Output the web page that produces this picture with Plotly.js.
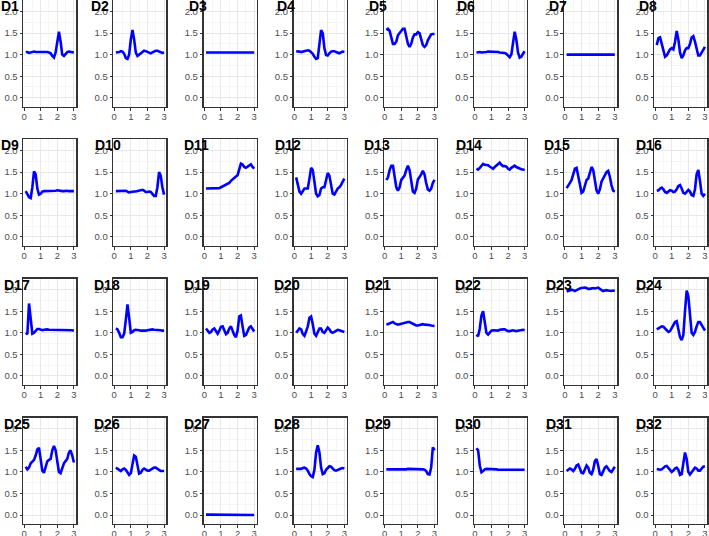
<!DOCTYPE html>
<html>
<head>
<meta charset="utf-8">
<script src="https://cdn.plot.ly/plotly-3.0.1.min.js"></script>
<style>html,body{margin:0;padding:0;background:#fff;}#chart{width:709px;height:536px;}</style>
</head>
<body>
<div id="chart"></div>
<script>
// x positions of the samples
const xVals = [0.1,0.2,0.3,0.4,0.5,0.6,0.7,0.8,0.9,1.0,1.1,1.2,1.3,1.4,1.5,1.6,1.7,1.8,1.9,2.0,2.1,2.2,2.3,2.4,2.5,2.6,2.7,2.8,2.9,3.0];
const panelNames = ["D1","D2","D3","D4","D5","D6","D7","D8","D9","D10","D11","D12","D13","D14","D15","D16","D17","D18","D19","D20","D21","D22","D23","D24","D25","D26","D27","D28","D29","D30","D31","D32"];
const xTicks = [0,1,2,3];
const yTicks = [0,0.5,1,1.5,2];
const yTickText = ["0.0","0.5","1.0","1.5","2.0"];

const D1 = [1.06,1.06,1.04,1.05,1.06,1.07,1.06,1.06,1.07,1.07,1.06,1.06,1.07,1.06,1.05,1.03,0.97,0.93,1.05,1.35,1.53,1.30,1.00,0.97,1.02,1.06,1.07,1.06,1.05,1.05];
const D2 = [1.05,1.05,1.06,1.08,1.07,1.02,0.92,0.90,1.00,1.35,1.57,1.35,1.05,0.97,1.00,1.05,1.08,1.09,1.08,1.06,1.04,1.03,1.05,1.07,1.09,1.09,1.07,1.05,1.04,1.05];
const D3 = [1.05,1.05,1.05,1.05,1.05,1.04,1.04,1.04,1.05,1.05,1.05,1.05,1.05,1.05,1.05,1.05,1.05,1.04,1.04,1.05,1.05,1.05,1.05,1.05,1.05,1.05,1.05,1.05,1.05,1.05];
const D4 = [1.08,1.08,1.07,1.06,1.07,1.08,1.09,1.10,1.09,1.06,1.02,0.95,0.90,0.92,1.25,1.57,1.50,1.15,0.99,0.98,1.03,1.07,1.08,1.08,1.06,1.04,1.03,1.05,1.07,1.06];
const D5 = [1.57,1.60,1.55,1.40,1.25,1.25,1.30,1.45,1.50,1.55,1.60,1.60,1.45,1.25,1.18,1.25,1.40,1.47,1.47,1.52,1.50,1.38,1.22,1.18,1.22,1.33,1.42,1.47,1.48,1.48];
const D6 = [1.05,1.06,1.06,1.05,1.05,1.05,1.06,1.07,1.07,1.07,1.07,1.06,1.06,1.06,1.05,1.05,1.05,1.04,1.02,0.97,0.94,1.00,1.30,1.53,1.35,1.05,0.93,0.95,1.02,1.08];
const D7 = [1.00,1.00,1.00,1.00,1.00,1.00,1.00,1.00,1.00,1.00,1.00,1.00,1.00,1.01,1.01,1.01,1.01,1.01,1.01,1.01,1.01,1.01,1.01,1.01,1.01,1.00,1.00,1.00,1.00,1.00];
const D8 = [1.22,1.38,1.40,1.25,1.05,0.95,0.98,1.05,1.12,1.15,1.12,1.30,1.55,1.35,1.05,0.92,0.98,1.10,1.15,1.15,1.25,1.40,1.43,1.30,1.10,0.98,0.98,1.05,1.12,1.18];
const D9 = [1.06,1.00,0.92,0.90,1.15,1.52,1.45,1.12,0.98,1.00,1.05,1.06,1.06,1.06,1.06,1.06,1.06,1.07,1.07,1.08,1.07,1.06,1.06,1.06,1.07,1.07,1.06,1.06,1.06,1.06];
const D10 = [1.06,1.06,1.06,1.06,1.07,1.07,1.07,1.05,1.03,1.04,1.05,1.05,1.05,1.06,1.07,1.08,1.09,1.07,1.04,1.04,1.05,1.04,1.00,0.95,0.95,1.15,1.50,1.42,1.15,0.98];
const D11 = [1.12,1.12,1.13,1.13,1.13,1.13,1.12,1.12,1.13,1.15,1.17,1.19,1.20,1.22,1.25,1.30,1.34,1.37,1.40,1.43,1.55,1.70,1.68,1.62,1.60,1.63,1.67,1.68,1.62,1.58];
const D12 = [1.38,1.20,1.05,1.00,1.05,1.12,1.12,1.12,1.35,1.60,1.55,1.30,1.00,0.94,0.97,1.12,1.15,1.15,1.30,1.48,1.42,1.20,1.00,0.98,1.05,1.12,1.15,1.20,1.28,1.35];
const D13 = [1.32,1.38,1.55,1.65,1.65,1.40,1.15,1.07,1.15,1.32,1.38,1.42,1.55,1.65,1.55,1.25,1.05,1.02,1.12,1.33,1.38,1.45,1.53,1.45,1.25,1.10,1.07,1.12,1.25,1.32];
const D14 = [1.58,1.56,1.60,1.65,1.69,1.67,1.66,1.66,1.63,1.60,1.58,1.62,1.65,1.70,1.72,1.67,1.64,1.64,1.63,1.58,1.56,1.60,1.63,1.65,1.62,1.60,1.58,1.57,1.56,1.55];
const D15 = [1.13,1.18,1.25,1.32,1.45,1.58,1.60,1.40,1.15,1.02,1.05,1.20,1.32,1.35,1.50,1.62,1.55,1.30,1.08,1.00,1.10,1.28,1.35,1.40,1.50,1.53,1.40,1.20,1.07,1.05];
const D16 = [1.07,1.08,1.12,1.14,1.10,1.04,1.02,1.05,1.08,1.07,1.04,1.05,1.10,1.18,1.20,1.12,1.02,1.00,1.05,1.09,1.05,0.97,0.95,1.10,1.45,1.55,1.30,1.00,0.95,1.00];
const D17 = [1.00,0.97,1.68,1.30,0.98,1.00,1.05,1.09,1.09,1.07,1.06,1.07,1.08,1.08,1.07,1.07,1.07,1.07,1.07,1.07,1.07,1.07,1.07,1.07,1.07,1.07,1.07,1.07,1.06,1.05];
const D18 = [1.10,1.08,1.00,0.90,0.90,0.98,1.30,1.66,1.35,1.00,1.02,1.06,1.07,1.07,1.06,1.05,1.05,1.04,1.05,1.06,1.07,1.08,1.08,1.07,1.07,1.07,1.06,1.06,1.05,1.05];
const D19 = [1.10,1.06,1.00,1.02,1.08,1.10,1.05,0.98,1.05,1.14,1.15,1.05,0.97,1.00,1.10,1.15,1.05,0.95,0.90,1.05,1.38,1.40,1.15,0.93,0.95,1.05,1.12,1.15,1.10,1.03];
const D20 = [1.00,1.05,1.10,1.08,0.97,0.93,1.02,1.15,1.35,1.38,1.20,0.98,0.93,1.00,1.10,1.10,1.02,1.00,1.08,1.12,1.08,1.02,1.00,1.03,1.05,1.07,1.06,1.05,1.03,1.02];
const D21 = [1.20,1.20,1.22,1.24,1.25,1.22,1.20,1.19,1.20,1.21,1.22,1.24,1.25,1.25,1.25,1.23,1.21,1.19,1.17,1.17,1.18,1.20,1.20,1.19,1.19,1.19,1.18,1.17,1.17,1.16];
const D22 = [0.96,0.92,1.10,1.40,1.50,1.25,1.00,0.96,1.00,1.05,1.06,1.06,1.06,1.05,1.07,1.08,1.08,1.08,1.06,1.04,1.04,1.05,1.06,1.05,1.04,1.05,1.06,1.07,1.07,1.06];
const D23 = [1.96,1.97,1.98,2.00,1.99,1.97,1.99,2.02,2.03,2.04,2.05,2.05,2.04,2.02,2.02,2.03,2.04,2.03,2.04,2.05,2.02,1.99,1.97,1.98,1.99,1.98,1.97,1.97,1.98,1.97];
const D24 = [1.08,1.10,1.13,1.15,1.14,1.10,1.05,1.02,1.04,1.10,1.18,1.25,1.27,1.10,0.90,0.83,0.95,1.50,1.98,1.85,1.35,1.00,0.95,1.02,1.15,1.25,1.25,1.18,1.10,1.05];
const D25 = [1.12,1.06,1.10,1.20,1.24,1.28,1.38,1.52,1.56,1.30,1.03,0.98,1.10,1.25,1.28,1.30,1.50,1.60,1.50,1.20,1.00,0.97,1.08,1.20,1.25,1.30,1.45,1.50,1.38,1.22];
const D26 = [1.10,1.07,1.03,1.02,1.06,1.08,1.05,0.98,0.93,0.97,1.15,1.38,1.35,1.10,0.96,0.98,1.05,1.08,1.06,1.03,1.03,1.05,1.08,1.10,1.10,1.07,1.04,1.02,1.02,1.02];
const D27 = [0.01,0.01,0.01,0.01,0.01,0.01,0.01,0.01,0.01,0.01,0.00,0.00,0.00,0.00,0.00,0.00,0.00,0.00,0.00,0.00,0.00,0.00,0.00,0.00,0.00,0.00,0.00,0.00,0.00,0.00];
const D28 = [1.07,1.07,1.06,1.07,1.09,1.10,1.08,1.03,0.95,0.90,0.88,1.05,1.45,1.62,1.45,1.10,0.95,0.97,1.05,1.10,1.13,1.12,1.08,1.04,1.03,1.05,1.07,1.08,1.09,1.08];
const D29 = [1.06,1.06,1.06,1.06,1.06,1.06,1.06,1.06,1.05,1.05,1.06,1.06,1.06,1.07,1.07,1.06,1.06,1.06,1.07,1.07,1.07,1.06,1.06,1.05,1.02,0.95,0.94,1.10,1.57,1.50];
const D30 = [1.55,1.50,1.15,0.99,1.02,1.06,1.07,1.07,1.06,1.06,1.06,1.06,1.06,1.05,1.05,1.05,1.05,1.05,1.05,1.05,1.05,1.05,1.05,1.05,1.06,1.06,1.06,1.06,1.05,1.05];
const D31 = [1.02,1.05,1.08,1.06,1.02,1.07,1.15,1.17,1.08,0.98,0.97,1.08,1.15,1.10,0.98,0.95,1.05,1.25,1.30,1.15,0.95,0.93,1.00,1.10,1.13,1.08,1.02,1.00,1.06,1.12];
const D32 = [1.07,1.06,1.05,1.06,1.10,1.13,1.14,1.10,1.04,1.00,1.03,1.08,1.10,1.05,0.93,0.95,1.20,1.45,1.30,1.00,0.94,1.00,1.06,1.10,1.08,1.03,1.03,1.08,1.12,1.13];

const series = [D1,D2,D3,D4,D5,D6,D7,D8,D9,D10,D11,D12,D13,D14,D15,D16,D17,D18,D19,D20,D21,D22,D23,D24,D25,D26,D27,D28,D29,D30,D31,D32];

// ---- layout geometry (pixels) ----
const W = 709, H = 536;
const colLeft0 = 23.3, colPitch = 90.15, panelW = 53;
const rowTop0 = 0.3, rowPitch = 139.1, panelH = 106.5;
const titleLefts = [
  [0,90,188,276,368,456,548,638],
  [0,94,183,274,363,455,543,635],
  [3,93,183,273,364,454,545,635],
  [3,93,183,273,364,454,545,635]
];

const font = "'Liberation Sans', Arial, Helvetica, sans-serif";
const traces = [];
const layout = {
  width: W, height: H,
  margin: {l:0, r:0, t:0, b:0},
  paper_bgcolor: '#ffffff',
  plot_bgcolor: '#ffffff',
  showlegend: false,
  font: {family: font},
  annotations: []
};

for (let i = 0; i < series.length; i++) {
  const r = Math.floor(i / 8), c = i % 8;
  const n = i === 0 ? '' : String(i + 1);
  const left = colLeft0 + colPitch * c;
  const top = rowTop0 + rowPitch * r;
  traces.push({
    type: 'scatter', mode: 'lines',
    x: xVals, y: series[i],
    xaxis: 'x' + n, yaxis: 'y' + n,
    line: {color: '#0000ff', width: 2.6},
    hoverinfo: 'skip'
  });
  const common = {
    showline: true, mirror: true, linecolor: '#333333', linewidth: 1.3,
    ticks: 'outside', ticklen: 2.5, tickwidth: 1, tickcolor: '#333333',
    showgrid: true, gridcolor: '#e8e8e8', gridwidth: 1,
    zeroline: false, fixedrange: true,
    ticklabeloverflow: 'allow',
    tickfont: {family: font, size: 9.5, color: '#4d4d4d'}
  };
  layout['xaxis' + n] = Object.assign({}, common, {
    domain: [left / W, (left + panelW) / W],
    anchor: 'y' + n,
    range: [-0.045, 3.145],
    ticklabelstandoff: -2,
    tickmode: 'array', tickvals: xTicks, ticktext: xTicks.map(String),
    minor: {dtick: 0.5, tick0: 0, showgrid: true, gridcolor: '#f0f0f0', gridwidth: 0.6, ticks: ''}
  });
  layout['yaxis' + n] = Object.assign({}, common, {
    domain: [1 - (top + panelH) / H, 1 - top / H],
    anchor: 'x' + n,
    range: [-0.21, 2.26],
    tickmode: 'array', tickvals: yTicks, ticktext: yTickText,
    minor: {dtick: 0.25, tick0: 0, showgrid: true, gridcolor: '#f0f0f0', gridwidth: 0.6, ticks: ''}
  });
  layout.annotations.push({
    text: '<b>' + panelNames[i] + '</b>',
    xref: 'paper', yref: 'paper',
    x: titleLefts[r][c] / W, y: 1 - (top - 3) / H,
    xanchor: 'left', yanchor: 'top',
    showarrow: false, borderpad: 0,
    font: {family: font, size: 14, color: '#000000'}
  });
}

Plotly.newPlot('chart', traces, layout, {displayModeBar: false, staticPlot: true});
</script>
</body>
</html>
